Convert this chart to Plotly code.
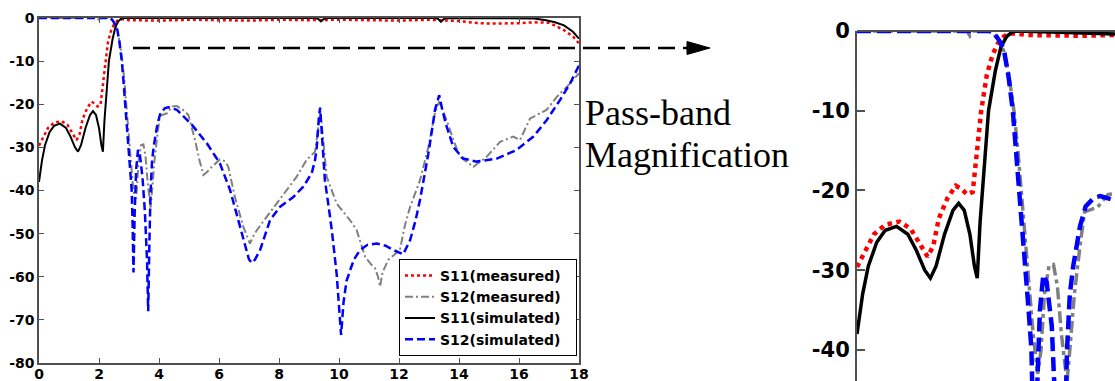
import plotly.graph_objects as go

# ---------------- data ----------------
s11_meas_f = [0, 0.15, 0.3, 0.5, 0.75, 0.95, 1.1, 1.25, 1.35, 1.45, 1.6, 1.75, 1.85, 1.95, 2.05, 2.12,
              2.2, 2.3, 2.4, 2.5, 2.6, 2.7, 2.8, 3, 4, 5, 6, 7, 8, 9, 10, 11, 12, 13, 14, 14.5, 15, 16,
              16.5, 17, 17.5, 17.8, 18]
s11_meas_v = [-29.6, -27.5, -25.5, -24.3, -23.9, -24.8, -26.5, -28.3, -27, -23.5, -21, -19.4, -19.8, -20.5,
              -20.2, -16, -10, -5.5, -3, -1.5, -0.7, -0.3, -0.3, -0.5, -0.6, -0.4, -0.5, -0.6, -0.4, -0.5,
              -0.4, -0.5, -0.6, -0.4, -0.7, -1.1, -1.3, -1.2, -1.0, -1.1, -2.8, -4.3, -5.9]

s12_meas_f = [0, 1.95, 2.0, 2.05, 2.3, 2.4, 2.5, 2.6, 2.7, 2.78, 2.85, 2.92, 2.98, 3.05, 3.12, 3.2, 3.26,
              3.32, 3.4, 3.48, 3.55, 3.62, 3.68, 3.72, 3.77, 3.85, 3.95, 4.03, 4.26, 4.45, 4.59, 4.8, 4.98,
              5.2, 5.35, 5.48, 5.62, 5.76, 6.03, 6.2, 6.31, 6.53, 6.81, 7.03, 7.15, 7.26, 7.59, 7.92, 8.26,
              8.59, 8.92, 9.2, 9.3, 9.37, 9.45, 9.59, 9.92, 10.37, 10.59, 10.87, 11.09, 11.2, 11.3, 11.37,
              11.45, 11.64, 12.03, 12.2, 12.37, 12.7, 12.98, 13.2, 13.34, 13.59, 13.8, 14.03, 14.48, 14.92,
              15.37, 15.81, 16.03, 16.37, 16.7, 16.92, 17.26, 17.7, 18]
s12_meas_v = [0, 0, -0.6, 0, 0, -0.2, -1, -2.5, -6, -10, -15, -21, -27, -33, -38, -43, -40,
              -33, -29.5, -29.3, -32, -38, -42, -44, -40, -33, -27, -22.7, -22.1, -20.5, -20.4, -21.3, -22.5,
              -28.3, -33, -36.4, -35.6, -34.5, -32.8, -33.2, -34.5, -41.5, -48.4, -52.3, -50.5, -49.2, -46.1,
              -43, -39.9, -36.8, -32.9, -31, -26, -21.2, -26.5, -36.8, -43, -46.9, -49.2, -55.4, -57.3, -58,
              -60, -62.3, -59, -56.1, -53.8, -48, -43.8, -37.6, -29.9, -22, -19.4, -23.7, -28, -32.2, -34.5,
              -32.2, -28.7, -27.5, -28.3, -23.3, -22.1, -21.3, -18.3, -15.2, -12.8]

s11_sim_f = [0, 0.1, 0.2, 0.35, 0.5, 0.7, 0.9, 1.05, 1.2, 1.3, 1.4, 1.55, 1.7, 1.8, 1.9, 2.0, 2.08, 2.13,
             2.18, 2.23, 2.33, 2.45, 2.55, 2.65, 2.75, 2.85, 9.2, 9.3, 9.4, 9.5, 9.6, 13.2, 13.3, 13.4,
             13.5, 13.6, 16.5, 16.9, 17.2, 17.5, 17.8, 18]
s11_sim_v = [-38, -33, -29.5, -26.5, -25, -24.5, -25.5, -27.5, -30, -31, -29.5, -25.5, -22.5, -21.6, -22.5,
             -25.5, -29.5, -31, -24, -19, -10, -5, -2, -0.7, -0.1, 0, 0, -0.2, -0.8, -0.2, 0, 0, -0.2, -0.9,
             -0.2, 0, -0.1, -0.5, -1.0, -1.7, -3.2, -4.8]

s12_sim_f = [0, 2.37, 2.45, 2.52, 2.6, 2.68, 2.76, 2.82, 2.87, 2.93, 2.98, 3.04, 3.09, 3.12, 3.15, 3.19,
             3.24, 3.3, 3.36, 3.45, 3.53, 3.6, 3.64, 3.68, 3.72, 3.77, 3.83, 3.95, 4.05, 4.2, 4.31, 4.6,
             5.1, 5.6, 6.03, 6.37, 6.64, 6.87, 7.0, 7.1, 7.2, 7.37, 7.7, 8.03, 8.48, 8.81, 9.09, 9.2,
             9.26, 9.33, 9.37, 9.45, 9.53, 9.65, 9.76, 9.92, 10.0, 10.07, 10.15, 10.25, 10.37, 10.5, 10.7,
             10.95, 11.26, 11.55, 11.81, 12.14, 12.37, 12.55, 12.7, 12.87, 12.98, 13.1, 13.2, 13.34, 13.45,
             13.59, 13.81, 14.14, 14.59, 15.26, 15.92, 16.48, 16.92, 17.37, 17.7, 18]
s12_sim_v = [0, 0, -0.5, -1.2, -2.3, -5.5, -10, -15, -20, -25, -30, -35, -40, -48, -59, -45,
             -35, -30.6, -31.5, -37, -45, -56, -68, -52, -40, -33, -29.5, -24.5, -22, -20.9, -20.7, -21.3,
             -24.8, -29.1, -33.7, -39.9, -46.9, -53.1, -56, -56.8, -56, -53.8, -46.9, -43.8, -41.5, -39.1,
             -36, -33, -29.9, -23, -20.8, -29, -37.6, -43.5, -49.2, -59.2, -66, -73.5, -66, -61, -58.5, -56,
             -53.8, -52.6, -52.3, -52.8, -53.8, -54.8, -51.5, -47, -42.2, -36, -31.4, -26, -21.3, -17.9,
             -21.5, -25.2, -29.9, -32.6, -33.3, -32.6, -30.6, -27.5, -23.7, -19.0, -15.2, -11]

series_names = ["S11(measured)", "S12(measured)", "S11(simulated)", "S12(simulated)"]
x_ticks_main = [0, 2, 4, 6, 8, 10, 12, 14, 16, 18]
y_ticks_main = [0, -10, -20, -30, -40, -50, -60, -70, -80]
y_ticks_zoom = [0, -10, -20, -30, -40]

# ---------------- layout helpers ----------------
W, H = 1115, 381
def px(x):
    return x / W
def py(y):
    return 1 - y / H
def bold(vals):
    return ["<b>%g</b>" % v for v in vals]

series = [
    (s11_meas_f, s11_meas_v, "#ff0000", "dot", 2.5, "dot", 4.5),
    (s12_meas_f, s12_meas_v, "#808080", "8px,3px,2px,3px", 2, "12px,4px,4px,4px", 3.5),
    (s11_sim_f, s11_sim_v, "#000000", "solid", 2, "solid", 3.5),
    (s12_sim_f, s12_sim_v, "#0000ff", "8px,4px", 2.5, "14px,6px", 4.5),
]

fig = go.Figure()
for name, (f, v, col, d1, w1, d2, w2) in zip(series_names, series):
    fig.add_trace(go.Scatter(x=f, y=v, mode="lines", name="<b>" + name + "</b>&nbsp;&nbsp;",
                             line=dict(color=col, dash=d1, width=w1),
                             xaxis="x", yaxis="y"))
for name, (f, v, col, d1, w1, d2, w2) in zip(series_names, series):
    fig.add_trace(go.Scatter(x=f, y=v, mode="lines", name=name, showlegend=False,
                             line=dict(color=col, dash=d2, width=w2),
                             xaxis="x2", yaxis="y2"))

tick_font_small = dict(family="DejaVu Sans", size=14, color="black", weight="bold")
tick_font_big = dict(family="DejaVu Sans", size=21, color="black", weight="bold")
axcol = "#505050"

fig.update_layout(
    template="none",
    width=W, height=H, autosize=False,
    margin=dict(l=0, r=0, t=0, b=0, pad=0),
    paper_bgcolor="white", plot_bgcolor="white",
    xaxis=dict(domain=[px(39), px(579)], range=[0, 18], tickvals=x_ticks_main,
               ticktext=bold(x_ticks_main),
               showline=True, linecolor=axcol, linewidth=1.5, mirror="ticks",
               ticks="inside", ticklen=5, tickcolor=axcol, showgrid=False, zeroline=False,
               tickfont=tick_font_small, anchor="y", automargin=False, ticklabelstandoff=-3),
    yaxis=dict(domain=[py(363), py(18)], range=[-80, 0], tickvals=y_ticks_main,
               ticktext=bold(y_ticks_main),
               showline=True, linecolor=axcol, linewidth=1.5, mirror="ticks",
               ticks="inside", ticklen=5, tickcolor=axcol, showgrid=False, zeroline=False,
               tickfont=tick_font_small, anchor="x", automargin=False),
    xaxis2=dict(domain=[px(857), 1], range=[0, 4.57], showline=False, showticklabels=False,
                ticks="", showgrid=False, zeroline=False, anchor="y2", automargin=False),
    yaxis2=dict(domain=[0, py(31)], range=[-43.9, 0], tickvals=y_ticks_zoom,
                ticktext=bold(y_ticks_zoom),
                showline=True, linecolor=axcol, linewidth=2,
                ticks="inside", ticklen=8, tickwidth=2, tickcolor=axcol, showgrid=False,
                zeroline=False, tickfont=tick_font_big, anchor="x2", ticklabelstandoff=1,
                automargin=False),
    legend=dict(x=px(577), y=py(356), xanchor="right", yanchor="bottom",
                bgcolor="white", bordercolor="black", borderwidth=1,
                font=dict(family="DejaVu Sans", size=14, color="black", weight="bold"),
                tracegroupgap=0, itemwidth=30),
    showlegend=True,
)

# top frame line of magnified plot
fig.add_shape(type="line", xref="x2 domain", yref="y2 domain", x0=0, x1=1, y0=1, y1=1,
              line=dict(color=axcol, width=2))

# dashed arrow
fig.add_shape(type="line", xref="paper", yref="paper", x0=px(133), x1=px(690), y0=py(48), y1=py(48),
              line=dict(color="black", width=2.5, dash="17px,8px"))
fig.add_shape(type="path", xref="paper", yref="paper",
              path=f"M {px(710)} {py(48)} L {px(687)} {py(41.5)} L {px(687)} {py(54.5)} Z",
              fillcolor="black", line=dict(color="black", width=1))

serif = dict(family="Liberation Serif", size=36, color="black")
fig.add_annotation(text="Pass-band", xref="paper", yref="paper", x=px(583), y=py(113),
                   xanchor="left", yanchor="middle", showarrow=False, font=serif)
fig.add_annotation(text="Magnification", xref="paper", yref="paper", x=px(583), y=py(155),
                   xanchor="left", yanchor="middle", showarrow=False, font=serif)

fig.write_html("out.html")
